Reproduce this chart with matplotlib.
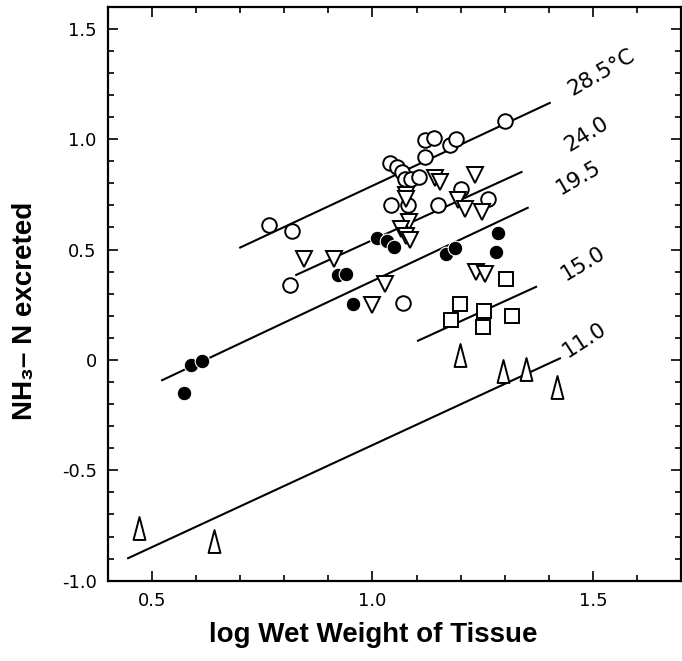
import matplotlib
matplotlib.use("Agg")
import matplotlib.pyplot as plt
from matplotlib.path import Path
from matplotlib.ticker import FixedLocator, FixedFormatter, MultipleLocator

# ---- data: log wet weight (x) vs log NH3-N excreted (y) ----
open_circ_x = [0.765, 0.818, 0.812, 1.070, 1.040, 1.055, 1.066, 1.073, 1.087, 1.105,
               1.120, 1.118, 1.140, 1.175, 1.190, 1.300, 1.041, 1.080, 1.148, 1.200, 1.261]
open_circ_y = [0.610, 0.583, 0.338, 0.257, 0.894, 0.876, 0.853, 0.818, 0.818, 0.827,
               0.921, 0.997, 1.005, 0.974, 1.000, 1.080, 0.701, 0.701, 0.701, 0.775, 0.729]

down_tri_x = [0.844, 0.913, 1.028, 0.998, 1.083, 1.065, 1.075, 1.085, 1.076, 1.076,
              1.142, 1.152, 1.232, 1.194, 1.209, 1.248, 1.235, 1.256]
down_tri_y = [0.459, 0.459, 0.345, 0.247, 0.625, 0.592, 0.560, 0.542, 0.745, 0.728,
              0.822, 0.805, 0.838, 0.724, 0.682, 0.671, 0.398, 0.391]

filled_circ_x = [0.572, 0.589, 0.613, 0.955, 0.921, 0.940, 1.010, 1.034, 1.049,
                 1.167, 1.186, 1.284, 1.280]
filled_circ_y = [-0.152, -0.021, -0.003, 0.252, 0.383, 0.389, 0.550, 0.537, 0.512,
                 0.482, 0.509, 0.573, 0.489]

square_x = [1.303, 1.199, 1.177, 1.252, 1.250, 1.316]
square_y = [0.368, 0.255, 0.179, 0.220, 0.148, 0.201]

up_tri_x = [0.470, 0.640, 1.199, 1.295, 1.348, 1.419]
up_tri_y = [-0.761, -0.818, 0.020, -0.052, -0.041, -0.124]

# fitted lines: temperature label, x range, y at ends
line_labels = ["28.5°C", "24.0", "19.5", "15.0", "11.0"]
line_x0 = [0.698, 0.825, 0.521, 1.101, 0.444]
line_x1 = [1.404, 1.340, 1.354, 1.373, 1.427]
line_y0 = [0.507, 0.383, -0.094, 0.085, -0.900]
line_y1 = [1.166, 0.853, 0.691, 0.333, 0.009]

label_x = [1.518, 1.486, 1.468, 1.477, 1.480]
label_y = [1.303, 1.022, 0.826, 0.438, 0.092]
label_rot = [30, 32, 30, 31, 33]

x_ticks = [0.5, 1.0, 1.5]
x_ticklabels = ["0.5", "1.0", "1.5"]
y_ticks = [-1.0, -0.5, 0.0, 0.5, 1.0, 1.5]
y_ticklabels = ["-1.0", "-0.5", "0", "0.5", "1.0", "1.5"]

title_family = ["Liberation Sans", "DejaVu Sans"]

# ---- figure ----
fig = plt.figure(figsize=(6.82, 6.61), dpi=100)
ax = fig.add_axes([0.158, 0.1215, 0.841, 0.8684])

ink = "black"
lw = 1.5

for x0, x1, y0, y1 in zip(line_x0, line_x1, line_y0, line_y1):
    ax.plot([x0, x1], [y0, y1], color=ink, lw=lw, solid_capstyle="butt", zorder=2)

ax.plot(open_circ_x, open_circ_y, linestyle="none", marker="o", ms=10.5,
        mfc="white", mec=ink, mew=1.4, zorder=3)
ax.plot(down_tri_x, down_tri_y, linestyle="none", marker="v", ms=11.5,
        mfc="white", mec=ink, mew=1.4, zorder=3)
ax.plot(filled_circ_x, filled_circ_y, linestyle="none", marker="o", ms=10.5,
        mfc=ink, mec="white", mew=0.8, zorder=4)
ax.plot(square_x, square_y, linestyle="none", marker="s", ms=9.5,
        mfc="white", mec=ink, mew=1.4, zorder=3)

tall_tri = Path([(-0.52, -1.0), (0.52, -1.0), (0.0, 1.0), (-0.52, -1.0)],
                [Path.MOVETO, Path.LINETO, Path.LINETO, Path.CLOSEPOLY])
ax.plot(up_tri_x, up_tri_y, linestyle="none", marker=tall_tri, ms=16.5,
        mfc="white", mec=ink, mew=1.4, zorder=3)

for txt, tx, ty, rot in zip(line_labels, label_x, label_y, label_rot):
    ax.text(tx, ty, txt, rotation=rot, rotation_mode="anchor", ha="center", va="center",
            fontsize=15.5, family="DejaVu Sans", color=ink)

ax.set_xlim(0.4, 1.7)
ax.set_ylim(-1.0, 1.6)

ax.xaxis.set_major_locator(FixedLocator(x_ticks))
ax.xaxis.set_major_formatter(FixedFormatter(x_ticklabels))
ax.yaxis.set_major_locator(FixedLocator(y_ticks))
ax.yaxis.set_major_formatter(FixedFormatter(y_ticklabels))
ax.xaxis.set_minor_locator(MultipleLocator(0.1))
ax.yaxis.set_minor_locator(MultipleLocator(0.1))

ax.tick_params(which="both", direction="in", top=True, right=True, width=1.2,
               color=ink, labelsize=13, pad=8)
ax.tick_params(which="major", length=7)
ax.tick_params(which="minor", length=4)
for lab in ax.get_xticklabels() + ax.get_yticklabels():
    lab.set_family("DejaVu Sans")

for sp in ax.spines.values():
    sp.set_linewidth(1.6)

ax.set_xlabel("log Wet Weight of Tissue", fontsize=20, fontweight="bold",
              family=title_family)
ax.set_ylabel("NH₃– N excreted", fontsize=20, fontweight="bold",
              family=title_family)
ax.xaxis.set_label_coords(0.4625, -0.072)
ax.yaxis.set_label_coords(-0.122, 0.47)

fig.savefig("out.png", dpi=100)
